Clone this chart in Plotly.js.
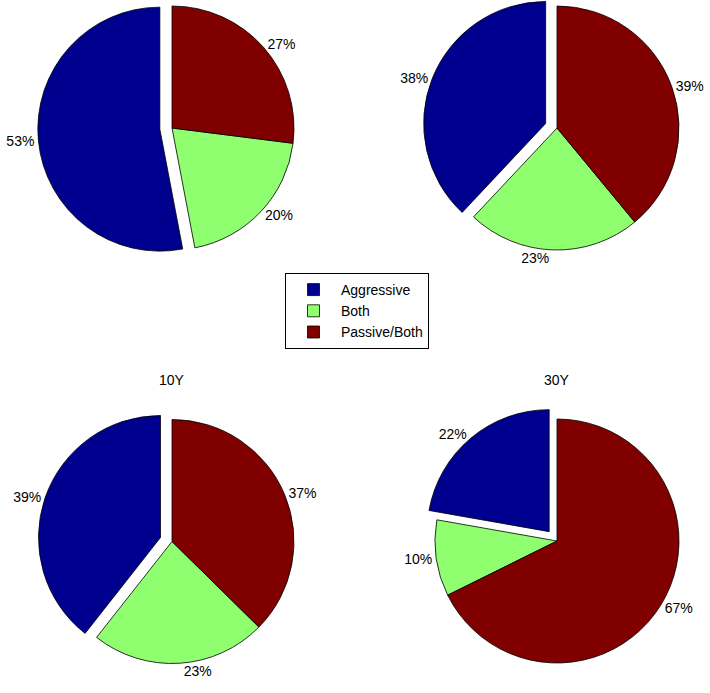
<!DOCTYPE html>
<html>
<head>
<meta charset="utf-8">
<script src="https://cdn.plot.ly/plotly-3.0.1.min.js"></script>
<style>
  html, body { margin: 0; padding: 0; overflow: hidden; background: #fff; width: 710px; height: 693px; }
  #plot { position: absolute; left: 0; top: -10px; width: 710px; height: 703px; }
</style>
</head>
<body>
<div id="plot"></div>
<script>
const categories = ["Aggressive", "Both", "Passive/Both"];
const colors = ["#00008F", "#8FFF70", "#800000"];
const pieNames = ["", "", "10Y", "30Y"];
const valuesA = [53, 20, 27];
const valuesB = [38, 23, 39];
const values10Y = [39, 23, 37];
const values30Y = [22, 10, 67];
const explode = [0.1, 0, 0];

const W = 710, H = 703;
const R = 122, halfBox = R * 1.1;
function dom(cx, cyPc) {
  return {
    x: [(cx - halfBox) / W, (cx + halfBox) / W],
    y: [1 - (cyPc + halfBox) / H, 1 - (cyPc - halfBox) / H]
  };
}
const domains = [dom(172, 138), dom(557, 138), dom(172, 551.5), dom(557, 551)];
const allValues = [valuesA, valuesB, values10Y, values30Y];

const font = { family: "Liberation Sans, Arial, Helvetica, sans-serif", size: 14, color: "#000" };

// MATLAB-style: first slice starts at 12 o'clock, slices run counterclockwise.
// Plotly's counterclockwise mode puts the first slice clockwise of `rotation`,
// so rotate back by the first slice's share.
function firstShareAngle(v) {
  const s = v.reduce((a, b) => a + b, 0);
  return -360 * v[0] / s;
}

const data = allValues.map((v, i) => ({
  type: "pie",
  labels: categories,
  values: v,
  sort: false,
  direction: "counterclockwise",
  rotation: firstShareAngle(v),
  pull: explode,
  marker: { colors: colors, line: { color: "#000", width: 0.8 } },
  texttemplate: "%{value}%",
  textposition: "outside",
  textfont: font,
  hoverinfo: "label+value",
  domain: domains[i],
  showlegend: true,
  automargin: false
}));

const annotations = [2, 3].map(i => ({
  text: pieNames[i],
  xref: "paper", yref: "paper",
  x: (domains[i].x[0] + domains[i].x[1]) / 2,
  y: 1 - 390 / H,
  xanchor: "center", yanchor: "middle",
  showarrow: false,
  font: font
}));

const layout = {
  width: W, height: H,
  margin: { l: 0, r: 0, t: 0, b: 0, pad: 0 },
  paper_bgcolor: "#fff",
  font: font,
  showlegend: true,
  legend: {
    x: 285 / W, y: 1 - 283 / H, xanchor: "left", yanchor: "top",
    bgcolor: "#fff", bordercolor: "#000", borderwidth: 1,
    font: font, itemwidth: 45, tracegroupgap: 0
  },
  annotations: annotations
};

Plotly.newPlot("plot", data, layout, { displayModeBar: false, staticPlot: true });
</script>
</body>
</html>
